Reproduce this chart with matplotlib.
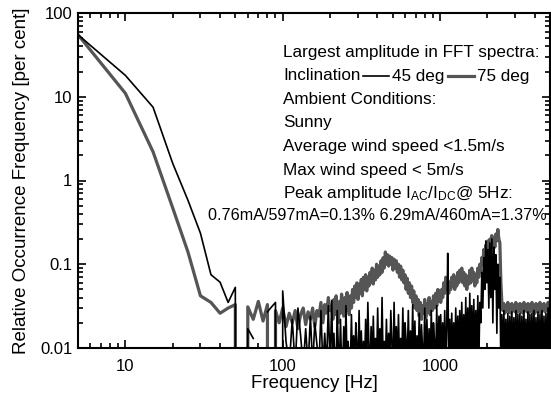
import numpy as np
import matplotlib
matplotlib.use("Agg")
from matplotlib import pyplot as plt
from matplotlib.lines import Line2D
from matplotlib.ticker import FixedLocator, LogLocator, FuncFormatter, NullFormatter

plt.rcParams['font.family'] = ['Liberation Sans', 'DejaVu Sans']
plt.rcParams['mathtext.fontset'] = 'custom'
plt.rcParams['mathtext.rm'] = 'Liberation Sans'
plt.rcParams['mathtext.it'] = 'Liberation Sans:italic'
plt.rcParams['path.simplify'] = False

# 5 Hz bins from 5 to 200 Hz
freq_lo = np.arange(5, 201, 5)
black_lo = [55, 18, 7.5, 1.6, 0.58, 0.235, 0.075, 0.061, 0.035, 0.053,
            0, 0.017, 0.013, np.nan, np.nan, 0.027, 0.031, 0.035, 0, 0.048,
            0.012, 0.006, 0.022, 0.006, 0.03, 0.014, 0.006, 0.017, 0.006, 0.024,
            0.006, 0.02, 0.011, 0.006, 0.028, 0.006, 0.015, 0.006, 0.032, 0.006]
gray_lo = [55, 11, 2.2, 0.47, 0.14, 0.042, 0.035, 0.026, 0.03, 0.033,
           0, 0.031, 0.022, 0.036, 0.021, 0.033, 0, 0.028, 0.02, 0.03,
           0.018, 0.026, 0.02, 0.028, 0.017, 0.025, 0.03, 0.019, 0.027, 0.022,
           0.03, 0.018, 0.028, 0.024, 0.035, 0.02, 0.033, 0.026, 0.04, 0.028]

# 205 Hz .. 1 kHz
freq_mid = np.geomspace(205, 1000, 100)
gray_mid = [0.03, 0.022, 0.038, 0.025, 0.042, 0.028, 0.02, 0.036, 0.026, 0.044,
            0.03, 0.024, 0.04, 0.028, 0.046, 0.032, 0.025, 0.042, 0.03, 0.05,
            0.035, 0.055, 0.04, 0.06, 0.038, 0.058, 0.045, 0.066, 0.042, 0.07,
            0.05, 0.075, 0.048, 0.07, 0.055, 0.08, 0.06, 0.09, 0.058, 0.085,
            0.065, 0.1, 0.07, 0.095, 0.075, 0.11, 0.08, 0.12, 0.09, 0.14,
            0.1, 0.13, 0.095, 0.125, 0.1, 0.12, 0.085, 0.115, 0.09, 0.11,
            0.08, 0.1, 0.07, 0.095, 0.065, 0.085, 0.06, 0.075, 0.05, 0.068,
            0.045, 0.06, 0.04, 0.055, 0.035, 0.048, 0.03, 0.042, 0.028, 0.038,
            0.024, 0.035, 0.022, 0.032, 0.026, 0.038, 0.023, 0.034, 0.027, 0.04,
            0.025, 0.036, 0.028, 0.042, 0.03, 0.045, 0.032, 0.05, 0.036, 0.048]
black_mid = [0.037, 0.006, 0.015, 0.006, 0.006, 0.028, 0.01, 0.006, 0.022, 0.006,
             0.006, 0.018, 0.006, 0.032, 0.006, 0.012, 0.006, 0.006, 0.025, 0.006,
             0.014, 0.006, 0.02, 0.011, 0.006, 0.028, 0.006, 0.016, 0.006, 0.012,
             0.006, 0.022, 0.006, 0.035, 0.01, 0.006, 0.018, 0.006, 0.024, 0.006,
             0.013, 0.006, 0.03, 0.006, 0.017, 0.006, 0.04, 0.006, 0.012, 0.006,
             0.022, 0.006, 0.015, 0.006, 0.028, 0.011, 0.006, 0.035, 0.006, 0.018,
             0.006, 0.025, 0.006, 0.013, 0.006, 0.03, 0.006, 0.02, 0.012, 0.006,
             0.028, 0.006, 0.016, 0.006, 0.033, 0.006, 0.021, 0.006, 0.014, 0.006,
             0.026, 0.006, 0.019, 0.01, 0.006, 0.03, 0.006, 0.022, 0.006, 0.017,
             0.006, 0.028, 0.006, 0.02, 0.012, 0.006, 0.032, 0.006, 0.024, 0.006]

# 1 kHz .. 5 kHz
freq_top = np.geomspace(1010, 5000, 110)
gray_top = [0.035, 0.05, 0.04, 0.06, 0.045, 0.07, 0.05, 0.065, 0.045, 0.06,
            0.05, 0.07, 0.055, 0.075, 0.05, 0.068, 0.055, 0.08, 0.06, 0.085,
            0.065, 0.09, 0.06, 0.08, 0.055, 0.075, 0.05, 0.07, 0.058, 0.085,
            0.06, 0.09, 0.065, 0.08, 0.055, 0.075, 0.06, 0.09, 0.07, 0.1,
            0.08, 0.12, 0.1, 0.15, 0.11, 0.17, 0.13, 0.19, 0.14, 0.2,
            0.15, 0.22, 0.17, 0.2, 0.16, 0.23, 0.19, 0.26, 0.2, 0.18,
            0.06, 0.035, 0.028, 0.034, 0.026, 0.032, 0.028, 0.035, 0.027, 0.033,
            0.026, 0.034, 0.028, 0.032, 0.027, 0.035, 0.026, 0.033, 0.028, 0.034,
            0.027, 0.033, 0.026, 0.035, 0.028, 0.032, 0.027, 0.034, 0.026, 0.033,
            0.028, 0.035, 0.027, 0.032, 0.026, 0.034, 0.028, 0.033, 0.027, 0.035,
            0.026, 0.033, 0.028, 0.034, 0.027, 0.032, 0.028, 0.035, 0.03, 0.032]
black_top = [0.025, 0.006, 0.02, 0.006, 0.028, 0.006, 0.018, 0.135, 0.006, 0.022,
             0.006, 0.026, 0.006, 0.02, 0.006, 0.03, 0.006, 0.024, 0.006, 0.028,
             0.006, 0.035, 0.006, 0.025, 0.006, 0.04, 0.006, 0.03, 0.006, 0.045,
             0.01, 0.032, 0.006, 0.038, 0.006, 0.028, 0.006, 0.042, 0.006, 0.035,
             0.02, 0.08, 0.03, 0.12, 0.05, 0.19, 0.06, 0.15, 0.03, 0.18,
             0.04, 0.2, 0.02, 0.16, 0.05, 0.13, 0.015, 0.1, 0.03, 0.07,
             0.006, 0.025, 0.006, 0.028, 0.006, 0.022, 0.006, 0.026, 0.006, 0.024,
             0.006, 0.027, 0.006, 0.023, 0.006, 0.028, 0.006, 0.025, 0.006, 0.026,
             0.006, 0.024, 0.006, 0.028, 0.006, 0.022, 0.006, 0.027, 0.006, 0.025,
             0.006, 0.026, 0.006, 0.028, 0.006, 0.023, 0.006, 0.027, 0.006, 0.025,
             0.006, 0.028, 0.006, 0.024, 0.006, 0.026, 0.006, 0.03, 0.006, 0.08]

freq = np.concatenate([freq_lo, freq_mid, freq_top])
black = np.concatenate([black_lo, black_mid, black_top])
gray = np.concatenate([gray_lo, gray_mid, gray_top])

GRAY = '#555555'
FS = 12.3

fig = plt.figure(figsize=(5.51, 4.01), dpi=100)
ax = fig.add_axes([78/551, 53/401, 472/551, 335/401])

ax.plot(freq, gray, color=GRAY, lw=2.3)
ax.plot(freq, black, color='black', lw=1.2)

ax.set_xscale('log')
ax.set_yscale('log')
ax.set_xlim(5, 5000)
ax.set_ylim(0.01, 100)

ax.xaxis.set_major_locator(FixedLocator([10, 100, 1000]))
ax.xaxis.set_minor_locator(LogLocator(base=10, subs=np.arange(2, 10)))
ax.yaxis.set_major_locator(FixedLocator([0.01, 0.1, 1, 10, 100]))
ax.yaxis.set_minor_locator(LogLocator(base=10, subs=np.arange(2, 10)))
fmt = FuncFormatter(lambda v, p: '{:g}'.format(v))
ax.xaxis.set_major_formatter(fmt)
ax.yaxis.set_major_formatter(fmt)
ax.xaxis.set_minor_formatter(NullFormatter())
ax.yaxis.set_minor_formatter(NullFormatter())

ax.tick_params(which='both', direction='in', top=True, right=True, width=1.2, labelsize=12)
ax.tick_params(which='major', length=6)
ax.tick_params(which='minor', length=3.5)
ax.tick_params(axis='x', pad=8)
ax.tick_params(axis='y', pad=4)
for s in ax.spines.values():
    s.set_linewidth(1.5)

ax.set_xlabel('Frequency [Hz]', fontsize=13.5, labelpad=1)
ax.set_ylabel('Relative Occurrence Frequency [per cent]', fontsize=13.5, labelpad=7)


# annotation block, placed in pixel terms of the 551x401 figure
def px(x, y):
    return x / 551, (401 - y) / 401


lines = ['Largest amplitude in FFT spectra:', None, 'Ambient Conditions:', 'Sunny',
         'Average wind speed <1.5m/s', 'Max wind speed < 5m/s',
         r'Peak amplitude I$_{\mathrm{AC}}$/I$_{\mathrm{DC}}$@ 5Hz:']
ys = [52, 76, 99.5, 123, 146.5, 170, 193.5]
for t, y in zip(lines, ys):
    if t is not None:
        fig.text(*px(283, y), t, fontsize=FS, va='center', ha='left')

renderer = fig.canvas.get_renderer()
x = 283
for piece, col, lw in [('Inclination', 'black', 1.2), ('45 deg', GRAY, 2.3), ('75 deg', None, 0)]:
    t = fig.text(*px(x, 76), piece, fontsize=FS, va='center', ha='left')
    x = t.get_window_extent(renderer).x1
    if col is not None:
        fig.add_artist(Line2D([(x + 3) / 551, (x + 29) / 551], [px(0, 76)[1]] * 2,
                              color=col, lw=lw))
        x = x + 32

fig.text(*px(547, 215), '0.76mA/597mA=0.13% 6.29mA/460mA=1.37%',
         fontsize=11.6, va='center', ha='right')

fig.savefig('out.png', dpi=100)
